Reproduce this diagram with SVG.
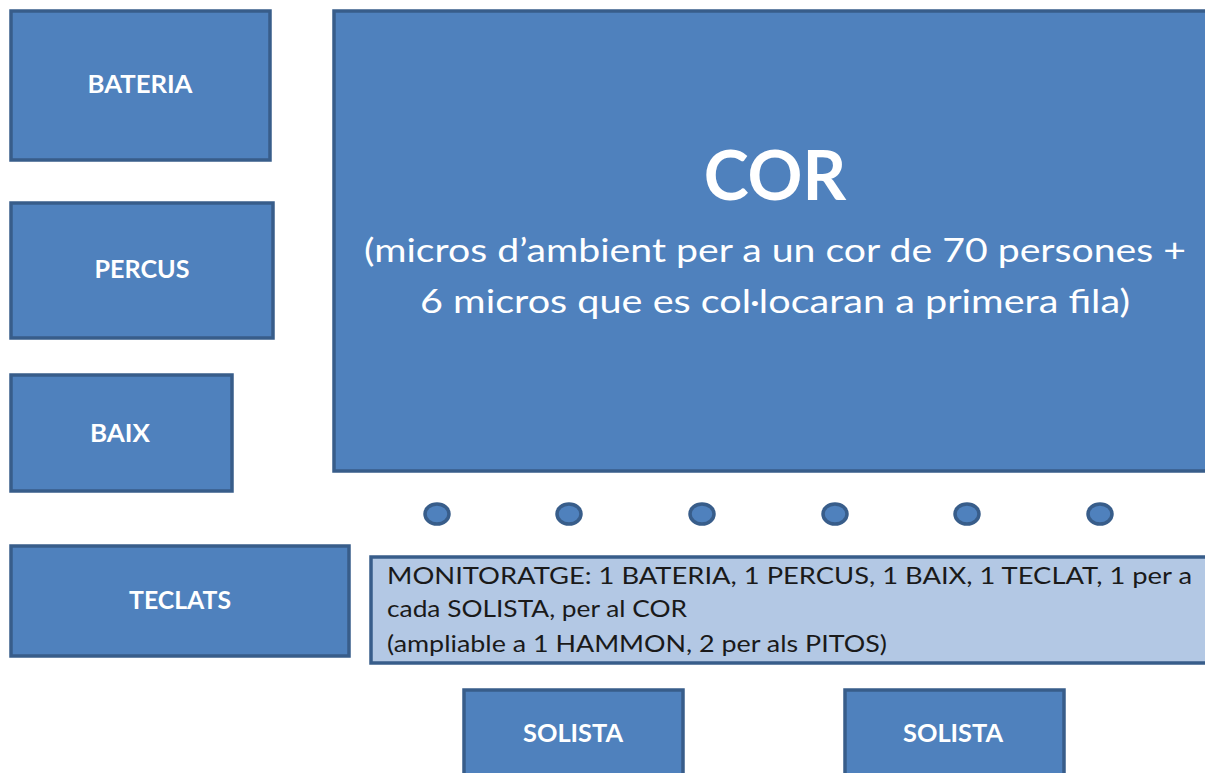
<svg xmlns="http://www.w3.org/2000/svg" width="1205" height="773" viewBox="0 0 1205 773">
<style>
.box{fill:#4F81BD;stroke:#385D8A;stroke-width:3.5}
.mon{fill:#B3C8E4;stroke:#385D8A;stroke-width:3.5}
.dot{fill:#4F81BD;stroke:#385D8A;stroke-width:3.5}
.lbl{font-family:Lato,"Open Sans","Liberation Sans",sans-serif;font-weight:bold;fill:#fff;text-anchor:middle;font-size:25px}
.cor{font-family:Lato,"Open Sans","Liberation Sans",sans-serif;fill:#fff;text-anchor:middle}
.mt{font-family:Lato,"Open Sans","Liberation Sans",sans-serif;fill:#1a1a1a;font-size:23px}
</style>
<rect width="1205" height="773" fill="#fff"/>
<g id="bateria"><rect class="box" x="11" y="11" width="259" height="149"/><text class="lbl" x="140" y="93" textLength="105" lengthAdjust="spacingAndGlyphs">BATERIA</text></g>
<g id="percus"><rect class="box" x="11" y="203" width="262" height="135"/><text class="lbl" x="142" y="278" textLength="95" lengthAdjust="spacingAndGlyphs">PERCUS</text></g>
<g id="baix"><rect class="box" x="11" y="375" width="221" height="116"/><text class="lbl" x="120" y="442" textLength="60" lengthAdjust="spacingAndGlyphs">BAIX</text></g>
<g id="teclats"><rect class="box" x="11" y="546" width="338" height="110"/><text class="lbl" x="180" y="609" textLength="102" lengthAdjust="spacingAndGlyphs">TECLATS</text></g>
<g id="cor"><rect class="box" x="334" y="11" width="880" height="460"/>
<text class="cor" x="775" y="200" font-size="68" font-weight="bold">COR</text>
<text class="cor" x="775" y="262" font-size="33" textLength="822" lengthAdjust="spacingAndGlyphs">(micros d’ambient per a un cor de 70 persones +</text>
<text class="cor" x="775" y="313" font-size="33" textLength="710" lengthAdjust="spacingAndGlyphs">6 micros que es col·locaran a primera fila)</text></g>
<g id="mics">
<ellipse class="dot" cx="437" cy="514" rx="12" ry="10"/>
<ellipse class="dot" cx="569" cy="514" rx="12" ry="10"/>
<ellipse class="dot" cx="702" cy="514" rx="12" ry="10"/>
<ellipse class="dot" cx="835" cy="514" rx="12" ry="10"/>
<ellipse class="dot" cx="967" cy="514" rx="12" ry="10"/>
<ellipse class="dot" cx="1100" cy="514" rx="12" ry="10"/>
</g>
<g id="monitoratge"><rect class="mon" x="371" y="557" width="845" height="106"/>
<text class="mt" x="387" y="584" textLength="805" lengthAdjust="spacingAndGlyphs">MONITORATGE: 1 BATERIA, 1 PERCUS, 1 BAIX,  1 TECLAT, 1 per a</text>
<text class="mt" x="387" y="617" textLength="300" lengthAdjust="spacingAndGlyphs">cada SOLISTA, per al COR</text>
<text class="mt" x="387" y="652" textLength="500" lengthAdjust="spacingAndGlyphs">(ampliable a 1 HAMMON, 2 per als PITOS)</text></g>
<g id="solista1"><rect class="box" x="464" y="690" width="219" height="100"/><text class="lbl" x="573" y="742" textLength="100" lengthAdjust="spacingAndGlyphs">SOLISTA</text></g>
<g id="solista2"><rect class="box" x="845" y="690" width="219" height="100"/><text class="lbl" x="953" y="742" textLength="100" lengthAdjust="spacingAndGlyphs">SOLISTA</text></g>
<g id="connectors"/>
</svg>
